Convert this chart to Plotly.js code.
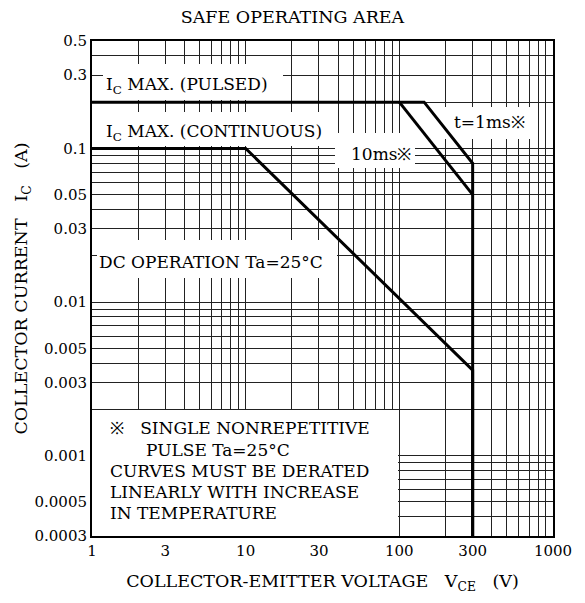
<!DOCTYPE html>
<html>
<head>
<meta charset="utf-8">
<script src="https://cdn.plot.ly/plotly-3.0.1.min.js"></script>
<style>html,body{margin:0;padding:0;background:#fff;}#chart{width:585px;height:603px;}</style>
</head>
<body>
<div id="chart"></div>
<script>
// ---- data ----
const pulse1msV = [1, 145, 300, 300];
const pulse1msI = [0.2, 0.2, 0.08, 0.0003];
const pulse10msV = [100, 300];
const pulse10msI = [0.2, 0.05];
const dcV = [1, 10, 300, 300];
const dcI = [0.1, 0.1, 0.0036, 0.0003];

const xTickVals = [1, 3, 10, 30, 100, 300, 1000];
const xTickText = ['1', '3', '10', '30', '100', '300', '1000'];
const yTickVals = [0.5, 0.3, 0.1, 0.05, 0.03, 0.01, 0.005, 0.003, 0.001, 0.0005, 0.0003];
const yTickText = ['0.5', '0.3', '0.1', '0.05', '0.03', '0.01', '0.005', '0.003', '0.001', '0.0005', '0.0003'];

// log grid (1..9 per decade)
function logGrid(lo, hi) {
  const out = [];
  for (let e = lo; e <= hi; e++) for (let m = 1; m <= 9; m++) out.push(+(m * Math.pow(10, e)).toPrecision(3));
  return out;
}
const xGrid = logGrid(0, 3).filter(v => v <= 1000);
const yGrid = logGrid(-4, -1).filter(v => v >= 0.0003 && v <= 0.5);

const FONT = 'DejaVu Serif, Liberation Serif, serif';
const L = 92, R = 553, T = 41, B = 536;
const X_RANGE = [0, 3];
const Y_RANGE = [Math.log10(0.0003), Math.log10(0.5)];
const px = x => (x - L) / (R - L);
const py = y => (B - y) / (B - T);
// pixel -> axis data value (used only for the white label masks)
const dx = p => Math.pow(10, X_RANGE[0] + px(p) * (X_RANGE[1] - X_RANGE[0]));
const dy = p => Math.pow(10, Y_RANGE[0] + py(p) * (Y_RANGE[1] - Y_RANGE[0]));

const lineStyle = {color: '#000', width: 3};
const traces = [
  {x: pulse1msV, y: pulse1msI, mode: 'lines', line: lineStyle, name: 't=1ms', hoverinfo: 'skip'},
  {x: pulse10msV, y: pulse10msI, mode: 'lines', line: lineStyle, name: '10ms', hoverinfo: 'skip'},
  {x: dcV, y: dcI, mode: 'lines', line: lineStyle, name: 'DC', hoverinfo: 'skip'}
];

function box(x0, y0, x1, y1) {
  return {type: 'rect', xref: 'x', yref: 'y', x0: dx(x0), x1: dx(x1), y0: dy(y1), y1: dy(y0),
          fillcolor: '#fff', line: {width: 0}, layer: 'between'};
}
const shapes = [
  box(103, 64, 283, 100),
  box(92, 112, 330, 146),
  box(335, 133, 415, 168),
  box(445, 107, 535, 139),
  box(97, 240, 337, 278),
  box(92, 410, 398, 536)
];

function label(text, x, y, size) {
  return {text: text, xref: 'paper', yref: 'paper', x: px(x), y: py(y), xanchor: 'left', yanchor: 'middle',
          showarrow: false, font: {family: FONT, size: size || 17, color: '#000'}};
}
const annotations = [
  label('I<sub>C</sub> MAX. (PULSED)', 104, 85),
  label('I<sub>C</sub> MAX. (CONTINUOUS)', 104, 132),
  label('10ms\u203B', 349, 154),
  label('t=1ms\u203B', 452, 122),
  label('DC OPERATION Ta=25°C', 97, 262),
  label('\u203B\u00a0\u00a0\u00a0SINGLE NONREPETITIVE', 108, 428),
  label('PULSE Ta=25°C', 144, 450),
  label('CURVES MUST BE DERATED', 108, 471),
  label('LINEARLY WITH INCREASE', 108, 492),
  label('IN TEMPERATURE', 108, 513)
];

const axisCommon = {
  type: 'log', tickmode: 'array', showgrid: true, gridcolor: '#222', gridwidth: 1,
  showline: true, linecolor: '#000', linewidth: 2, mirror: true, ticks: '', zeroline: false,
  tickfont: {family: FONT, size: 15, color: '#000'}, automargin: false, fixedrange: true
};

const layout = {
  width: 585, height: 603,
  margin: {l: L, r: 585 - R, t: T, b: 603 - B},
  paper_bgcolor: '#fff', plot_bgcolor: '#fff',
  showlegend: false,
  title: {text: 'SAFE OPERATING AREA', xref: 'container', x: 0.5, xanchor: 'center',
          yref: 'container', y: 1 - 17 / 603, yanchor: 'middle',
          font: {family: FONT, size: 17.5, color: '#000'}},
  xaxis: Object.assign({}, axisCommon, {
    range: X_RANGE, tickvals: xTickVals, ticktext: xTickText,
    minor: {tickmode: 'array', tickvals: xGrid, showgrid: true, gridcolor: '#222', gridwidth: 1, ticks: ''},
    title: {text: 'COLLECTOR-EMITTER VOLTAGE\u00a0\u00a0\u00a0V<sub>CE</sub>\u00a0\u00a0\u00a0(V)', standoff: 16,
            font: {family: FONT, size: 17.5, color: '#000'}}
  }),
  yaxis: Object.assign({}, axisCommon, {
    range: Y_RANGE, tickvals: yTickVals, ticktext: yTickText,
    minor: {tickmode: 'array', tickvals: yGrid, showgrid: true, gridcolor: '#222', gridwidth: 1, ticks: ''},
    title: {text: 'COLLECTOR CURRENT\u00a0\u00a0\u00a0I<sub>C</sub>\u00a0\u00a0\u00a0(A)', standoff: 2,
            font: {family: FONT, size: 17.5, color: '#000'}}
  }),
  shapes: shapes,
  annotations: annotations
};

Plotly.newPlot('chart', traces, layout, {displayModeBar: false, staticPlot: true});
</script>
</body>
</html>
